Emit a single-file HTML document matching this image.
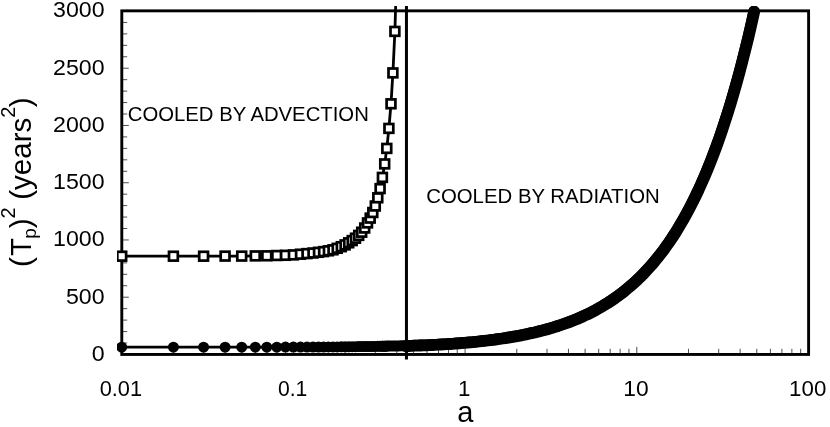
<!DOCTYPE html>
<html><head><meta charset="utf-8"><title>chart</title>
<style>html,body{margin:0;padding:0;background:#fff}svg{display:block;will-change:transform;opacity:.999}text{font-family:"Liberation Sans",sans-serif;fill:#000}</style></head>
<body>
<svg width="830" height="427" viewBox="0 0 830 427">
<rect width="830" height="427" fill="#fff"/>
<defs><clipPath id="c"><rect x="117" y="6" width="696.6" height="353.4"/></clipPath></defs>
<path d="M123 343.00H127.2M123 331.55H127.2M123 320.10H127.2M123 308.65H127.2M123 297.20H128.8M123 285.76H127.2M123 274.31H127.2M123 262.86H127.2M123 251.41H127.2M123 239.96H128.8M123 228.51H127.2M123 217.06H127.2M123 205.61H127.2M123 194.16H127.2M123 182.72H128.8M123 171.27H127.2M123 159.82H127.2M123 148.37H127.2M123 136.92H127.2M123 125.47H128.8M123 114.02H127.2M123 102.57H127.2M123 91.12H127.2M123 79.67H127.2M123 68.23H128.8M123 56.78H127.2M123 45.33H127.2M123 33.88H127.2M123 22.43H127.2M173.39 353V348.8M203.62 353V348.8M225.07 353V348.8M241.71 353V348.8M255.31 353V348.8M266.80 353V348.8M276.76 353V348.8M285.54 353V348.8M293.40 353V346.9M345.09 353V348.8M375.32 353V348.8M396.77 353V348.8M413.41 353V348.8M427.01 353V348.8M438.50 353V348.8M448.46 353V348.8M457.24 353V348.8M465.10 353V346.9M516.79 353V348.8M547.02 353V348.8M568.47 353V348.8M585.11 353V348.8M598.71 353V348.8M610.20 353V348.8M620.16 353V348.8M628.94 353V348.8M636.80 353V346.9M688.49 353V348.8M718.72 353V348.8M740.17 353V348.8M756.81 353V348.8M770.41 353V348.8M781.90 353V348.8M791.86 353V348.8M800.64 353V348.8" stroke="#222" stroke-width="0.8" fill="none"/>
<rect x="121.8" y="10.85" width="686.8" height="343.6" fill="none" stroke="#000" stroke-width="2.9"/>
<g clip-path="url(#c)">
<path d="M406.45 0V365" stroke="#000" stroke-width="3" fill="none"/>
<path d="M121.7 347.2 241.7 347.2 293.4 347.1 345.1 346.8 375.3 346.4 396.8 345.9" stroke="#000" stroke-width="2.8" fill="none"/>
<circle cx="121.7" cy="347.2" r="5.5"/><circle cx="173.4" cy="347.2" r="5.5"/><circle cx="203.6" cy="347.2" r="5.5"/><circle cx="225.1" cy="347.2" r="5.5"/><circle cx="241.7" cy="347.2" r="5.5"/><circle cx="255.3" cy="347.2" r="5.5"/><circle cx="266.8" cy="347.2" r="5.5"/><circle cx="276.8" cy="347.2" r="5.5"/><circle cx="285.5" cy="347.1" r="5.5"/><circle cx="293.4" cy="347.1" r="5.5"/><circle cx="300.5" cy="347.1" r="5.5"/><circle cx="307.0" cy="347.1" r="5.5"/><circle cx="313.0" cy="347.0" r="5.5"/><circle cx="318.5" cy="347.0" r="5.5"/><circle cx="323.6" cy="347.0" r="5.5"/><circle cx="328.4" cy="346.9" r="5.5"/><circle cx="333.0" cy="346.9" r="5.5"/><circle cx="337.2" cy="346.9" r="5.5"/><circle cx="341.3" cy="346.8" r="5.5"/><circle cx="345.1" cy="346.8" r="5.5"/><circle cx="348.7" cy="346.8" r="5.5"/><circle cx="352.2" cy="346.7" r="5.5"/><circle cx="355.5" cy="346.7" r="5.5"/><circle cx="358.7" cy="346.6" r="5.5"/><circle cx="361.7" cy="346.6" r="5.5"/><circle cx="364.7" cy="346.6" r="5.5"/><circle cx="367.5" cy="346.5" r="5.5"/><circle cx="370.2" cy="346.5" r="5.5"/><circle cx="372.8" cy="346.4" r="5.5"/><circle cx="375.3" cy="346.4" r="5.5"/><circle cx="377.8" cy="346.3" r="5.5"/><circle cx="380.1" cy="346.3" r="5.5"/><circle cx="382.4" cy="346.3" r="5.5"/><circle cx="384.7" cy="346.2" r="5.5"/><circle cx="386.8" cy="346.2" r="5.5"/>
<path d="M382.4 346.3 385.1 346.2 387.8 346.1 390.4 346.1 393.1 346.0 395.8 345.9 398.5 345.9 401.1 345.8 403.8 345.7 406.5 345.6 409.2 345.5 411.8 345.4 414.5 345.3 417.2 345.2 419.8 345.1 422.5 345.0 425.2 344.9 427.9 344.8 430.5 344.7 433.2 344.5 435.9 344.4 438.6 344.2 441.2 344.1 443.9 343.9 446.6 343.7 449.2 343.6 451.9 343.4 454.6 343.2 457.3 343.0 459.9 342.8 462.6 342.6 465.3 342.4 468.0 342.1 470.6 341.9 473.3 341.6 476.0 341.4 478.6 341.1 481.3 340.8 484.0 340.5 486.7 340.2 489.3 339.9 492.0 339.5 494.7 339.2 497.4 338.8 500.0 338.4 502.7 338.1 505.4 337.6 508.0 337.2 510.7 336.8 513.4 336.3 516.1 335.9 518.7 335.4 521.4 334.9 524.1 334.3 526.8 333.8 529.4 333.2 532.1 332.6 534.8 332.0 537.4 331.3 540.1 330.7 542.8 330.0 545.5 329.3 548.1 328.5 550.8 327.8 553.5 327.0 556.1 326.1 558.8 325.3 561.5 324.4 564.2 323.4 566.8 322.5 569.5 321.5 572.2 320.5 574.9 319.4 577.5 318.3 580.2 317.1 582.9 315.9 585.5 314.7 588.2 313.4 590.9 312.1 593.6 310.7 596.2 309.2 598.9 307.8 601.6 306.2 604.3 304.6 606.9 303.0 609.6 301.2 612.3 299.5 614.9 297.6 617.6 295.7 620.3 293.7 623.0 291.7 625.6 289.5 628.3 287.3 631.0 285.0 633.7 282.7 636.3 280.2 639.0 277.6 641.7 275.0 644.3 272.2 647.0 269.4 649.7 266.5 652.4 263.4 655.0 260.2 657.7 257.0 660.4 253.6 663.1 250.0 665.7 246.4 668.4 242.6 671.1 238.6 673.7 234.6 676.4 230.4 679.1 226.0 681.8 221.4 684.4 216.7 687.1 211.9 689.8 206.8 692.5 201.6 695.1 196.2 697.8 190.5 700.5 184.7 703.1 178.7 705.8 172.4 708.5 165.9 711.2 159.2 713.8 152.2 716.5 145.0 719.2 137.5 721.9 129.7 724.5 121.7 727.2 113.3 729.9 104.7 732.5 95.7 735.2 86.4 737.9 76.8 740.6 66.8 743.2 56.5 745.9 45.7 748.6 34.6 751.3 23.1 753.9 11.2" stroke="#000" stroke-width="11" stroke-linecap="round" stroke-linejoin="round" fill="none"/>
<path transform="translate(0.3 0.4)" d="M405.6 345.7 408.5 345.6 411.4 345.5 414.3 345.3 417.3 345.2 420.2 345.1 423.1 345.0 426.0 344.9 429.0 344.7 431.9 344.6 434.8 344.4 437.8 344.3 440.7 344.1 443.6 343.9 446.5 343.8 449.5 343.6 452.4 343.4 455.3 343.1 458.3 342.9 461.2 342.7 464.1 342.5 467.0 342.2 470.0 341.9 472.9 341.7 475.8 341.4 478.7 341.1 481.7 340.8 484.6 340.4 487.5 340.1 490.5 339.7 493.4 339.4 496.3 339.0 499.2 338.6 502.2 338.1 505.1 337.7 508.0 337.2 510.9 336.7 513.9 336.2 516.8 335.7 519.7 335.2 522.7 334.6 525.6 334.0 528.5 333.4 531.4 332.7 534.4 332.1 537.3 331.4 540.2 330.6 543.1 329.9 546.1 329.1 549.0 328.3 551.9 327.4 554.9 326.5 557.8 325.6 560.7 324.6 563.6 323.6 566.6 322.6 569.5 321.5 572.4 320.4 575.3 319.2 578.3 318.0 581.2 316.7 584.1 315.3 587.1 314.0 590.0 312.5 592.9 311.0 595.8 309.5 598.8 307.8 601.7 306.2 604.6 304.4 607.6 302.6 610.5 300.7 613.4 298.7 616.3 296.6 619.3 294.5 622.2 292.3 625.1 290.0 628.0 287.5 631.0 285.0 633.9 282.4 636.8 279.7 639.8 276.9 642.7 274.0 645.6 270.9 648.5 267.7 651.5 264.4 654.4 261.0 657.3 257.4 660.2 253.7 663.2 249.9 666.1 245.8 669.0 241.7 672.0 237.3 674.9 232.8 677.8 228.1 680.7 223.2 683.7 218.1 686.6 212.8 689.5 207.3 692.4 201.6 695.4 195.6 698.3 189.5 701.2 183.0 704.2 176.3 707.1 169.3 710.0 162.1 712.9 154.6 715.9 146.7 718.8 138.6 721.7 130.1 724.6 121.3 727.6 112.1 730.5 102.6 733.4 92.7 736.4 82.3 739.3 71.6 742.2 60.4 745.1 48.8 748.1 36.8 751.0 24.2 753.9 11.2" stroke="#000" stroke-width="11.8" stroke-linecap="round" stroke-linejoin="round" fill="none"/>
<path d="M121.7 256.2 173.4 256.2 203.6 256.2 225.1 256.1 241.7 256.1 255.3 255.9 266.8 255.8 276.8 255.5 285.5 255.3 293.4 254.9 300.5 254.2 307.0 253.6 313.0 253.0 318.5 252.3 323.6 251.6 328.4 250.8 333.0 249.8 337.2 248.3 341.3 246.7 345.1 244.9 348.7 242.8 352.2 240.6 355.5 238.2 358.7 235.4 361.7 232.2 364.7 228.0 367.5 222.9 370.2 218.1 372.8 212.5 375.3 206.0 377.8 197.8 380.1 188.6 382.4 177.4 384.7 163.9 386.8 148.4 388.9 128.4 391.0 103.8 392.9 72.9 394.9 31.4 396.8 -32.0" stroke="#000" stroke-width="2.8" fill="none" stroke-linejoin="round"/>
<g fill="#fff" stroke="#000" stroke-width="2.7"><rect x="117.3" y="251.8" width="8.8" height="8.8"/><rect x="169.0" y="251.8" width="8.8" height="8.8"/><rect x="199.2" y="251.8" width="8.8" height="8.8"/><rect x="220.7" y="251.7" width="8.8" height="8.8"/><rect x="237.3" y="251.7" width="8.8" height="8.8"/><rect x="250.9" y="251.5" width="8.8" height="8.8"/><rect x="262.4" y="251.4" width="8.8" height="8.8"/><rect x="272.4" y="251.1" width="8.8" height="8.8"/><rect x="281.1" y="250.9" width="8.8" height="8.8"/><rect x="289.0" y="250.5" width="8.8" height="8.8"/><rect x="296.1" y="249.8" width="8.8" height="8.8"/><rect x="302.6" y="249.2" width="8.8" height="8.8"/><rect x="308.6" y="248.6" width="8.8" height="8.8"/><rect x="314.1" y="247.9" width="8.8" height="8.8"/><rect x="319.2" y="247.2" width="8.8" height="8.8"/><rect x="324.0" y="246.4" width="8.8" height="8.8"/><rect x="328.6" y="245.4" width="8.8" height="8.8"/><rect x="332.8" y="243.9" width="8.8" height="8.8"/><rect x="336.9" y="242.3" width="8.8" height="8.8"/><rect x="340.7" y="240.5" width="8.8" height="8.8"/><rect x="344.3" y="238.4" width="8.8" height="8.8"/><rect x="347.8" y="236.2" width="8.8" height="8.8"/><rect x="351.1" y="233.8" width="8.8" height="8.8"/><rect x="354.3" y="231.0" width="8.8" height="8.8"/><rect x="357.3" y="227.8" width="8.8" height="8.8"/><rect x="360.3" y="223.6" width="8.8" height="8.8"/><rect x="363.1" y="218.5" width="8.8" height="8.8"/><rect x="365.8" y="213.7" width="8.8" height="8.8"/><rect x="368.4" y="208.1" width="8.8" height="8.8"/><rect x="370.9" y="201.6" width="8.8" height="8.8"/><rect x="373.4" y="193.4" width="8.8" height="8.8"/><rect x="375.7" y="184.2" width="8.8" height="8.8"/><rect x="378.0" y="173.0" width="8.8" height="8.8"/><rect x="380.3" y="159.5" width="8.8" height="8.8"/><rect x="382.4" y="144.0" width="8.8" height="8.8"/><rect x="384.5" y="124.0" width="8.8" height="8.8"/><rect x="386.6" y="99.4" width="8.8" height="8.8"/><rect x="388.5" y="68.5" width="8.8" height="8.8"/><rect x="390.5" y="27.0" width="8.8" height="8.8"/></g>
</g>
<text x="104.6" y="360.8" font-size="22.4" text-anchor="end" textLength="12.9" lengthAdjust="spacingAndGlyphs">0</text>
<text x="104.6" y="303.5" font-size="22.4" text-anchor="end" textLength="38.6" lengthAdjust="spacingAndGlyphs">500</text>
<text x="104.6" y="246.3" font-size="22.4" text-anchor="end" textLength="51.5" lengthAdjust="spacingAndGlyphs">1000</text>
<text x="104.6" y="189.0" font-size="22.4" text-anchor="end" textLength="51.5" lengthAdjust="spacingAndGlyphs">1500</text>
<text x="104.6" y="131.8" font-size="22.4" text-anchor="end" textLength="51.5" lengthAdjust="spacingAndGlyphs">2000</text>
<text x="104.6" y="74.5" font-size="22.4" text-anchor="end" textLength="51.5" lengthAdjust="spacingAndGlyphs">2500</text>
<text x="104.6" y="17.3" font-size="22.4" text-anchor="end" textLength="51.5" lengthAdjust="spacingAndGlyphs">3000</text>
<text x="120.9" y="395.7" font-size="22.4" text-anchor="middle" textLength="42.4" lengthAdjust="spacingAndGlyphs">0.01</text>
<text x="292.6" y="395.7" font-size="22.4" text-anchor="middle" textLength="29.4" lengthAdjust="spacingAndGlyphs">0.1</text>
<text x="464.3" y="395.7" font-size="22.4" text-anchor="middle">1</text>
<text x="636.0" y="395.7" font-size="22.4" text-anchor="middle" textLength="25.4" lengthAdjust="spacingAndGlyphs">10</text>
<text x="807.7" y="395.7" font-size="22.4" text-anchor="middle" textLength="37.2" lengthAdjust="spacingAndGlyphs">100</text>
<text x="465.2" y="422" font-size="29" text-anchor="middle">a</text>
<text x="127.8" y="121.4" font-size="20" textLength="241" lengthAdjust="spacingAndGlyphs">COOLED BY ADVECTION</text>
<text x="426.2" y="202.9" font-size="20" textLength="233.6" lengthAdjust="spacingAndGlyphs">COOLED BY RADIATION</text>
<text transform="translate(30.5 267) rotate(-90)" font-size="29.5">(<tspan dx="1.3">T</tspan><tspan font-size="19" dy="5" dx="-1">p</tspan><tspan dy="-5">)</tspan><tspan font-size="20" dy="-15.5">2</tspan><tspan dy="15.5" dx="-0.6"> (years</tspan><tspan font-size="20" dy="-15.5">2</tspan><tspan dy="15.5" dx="-0.6">)</tspan></text>
</svg></body></html>
